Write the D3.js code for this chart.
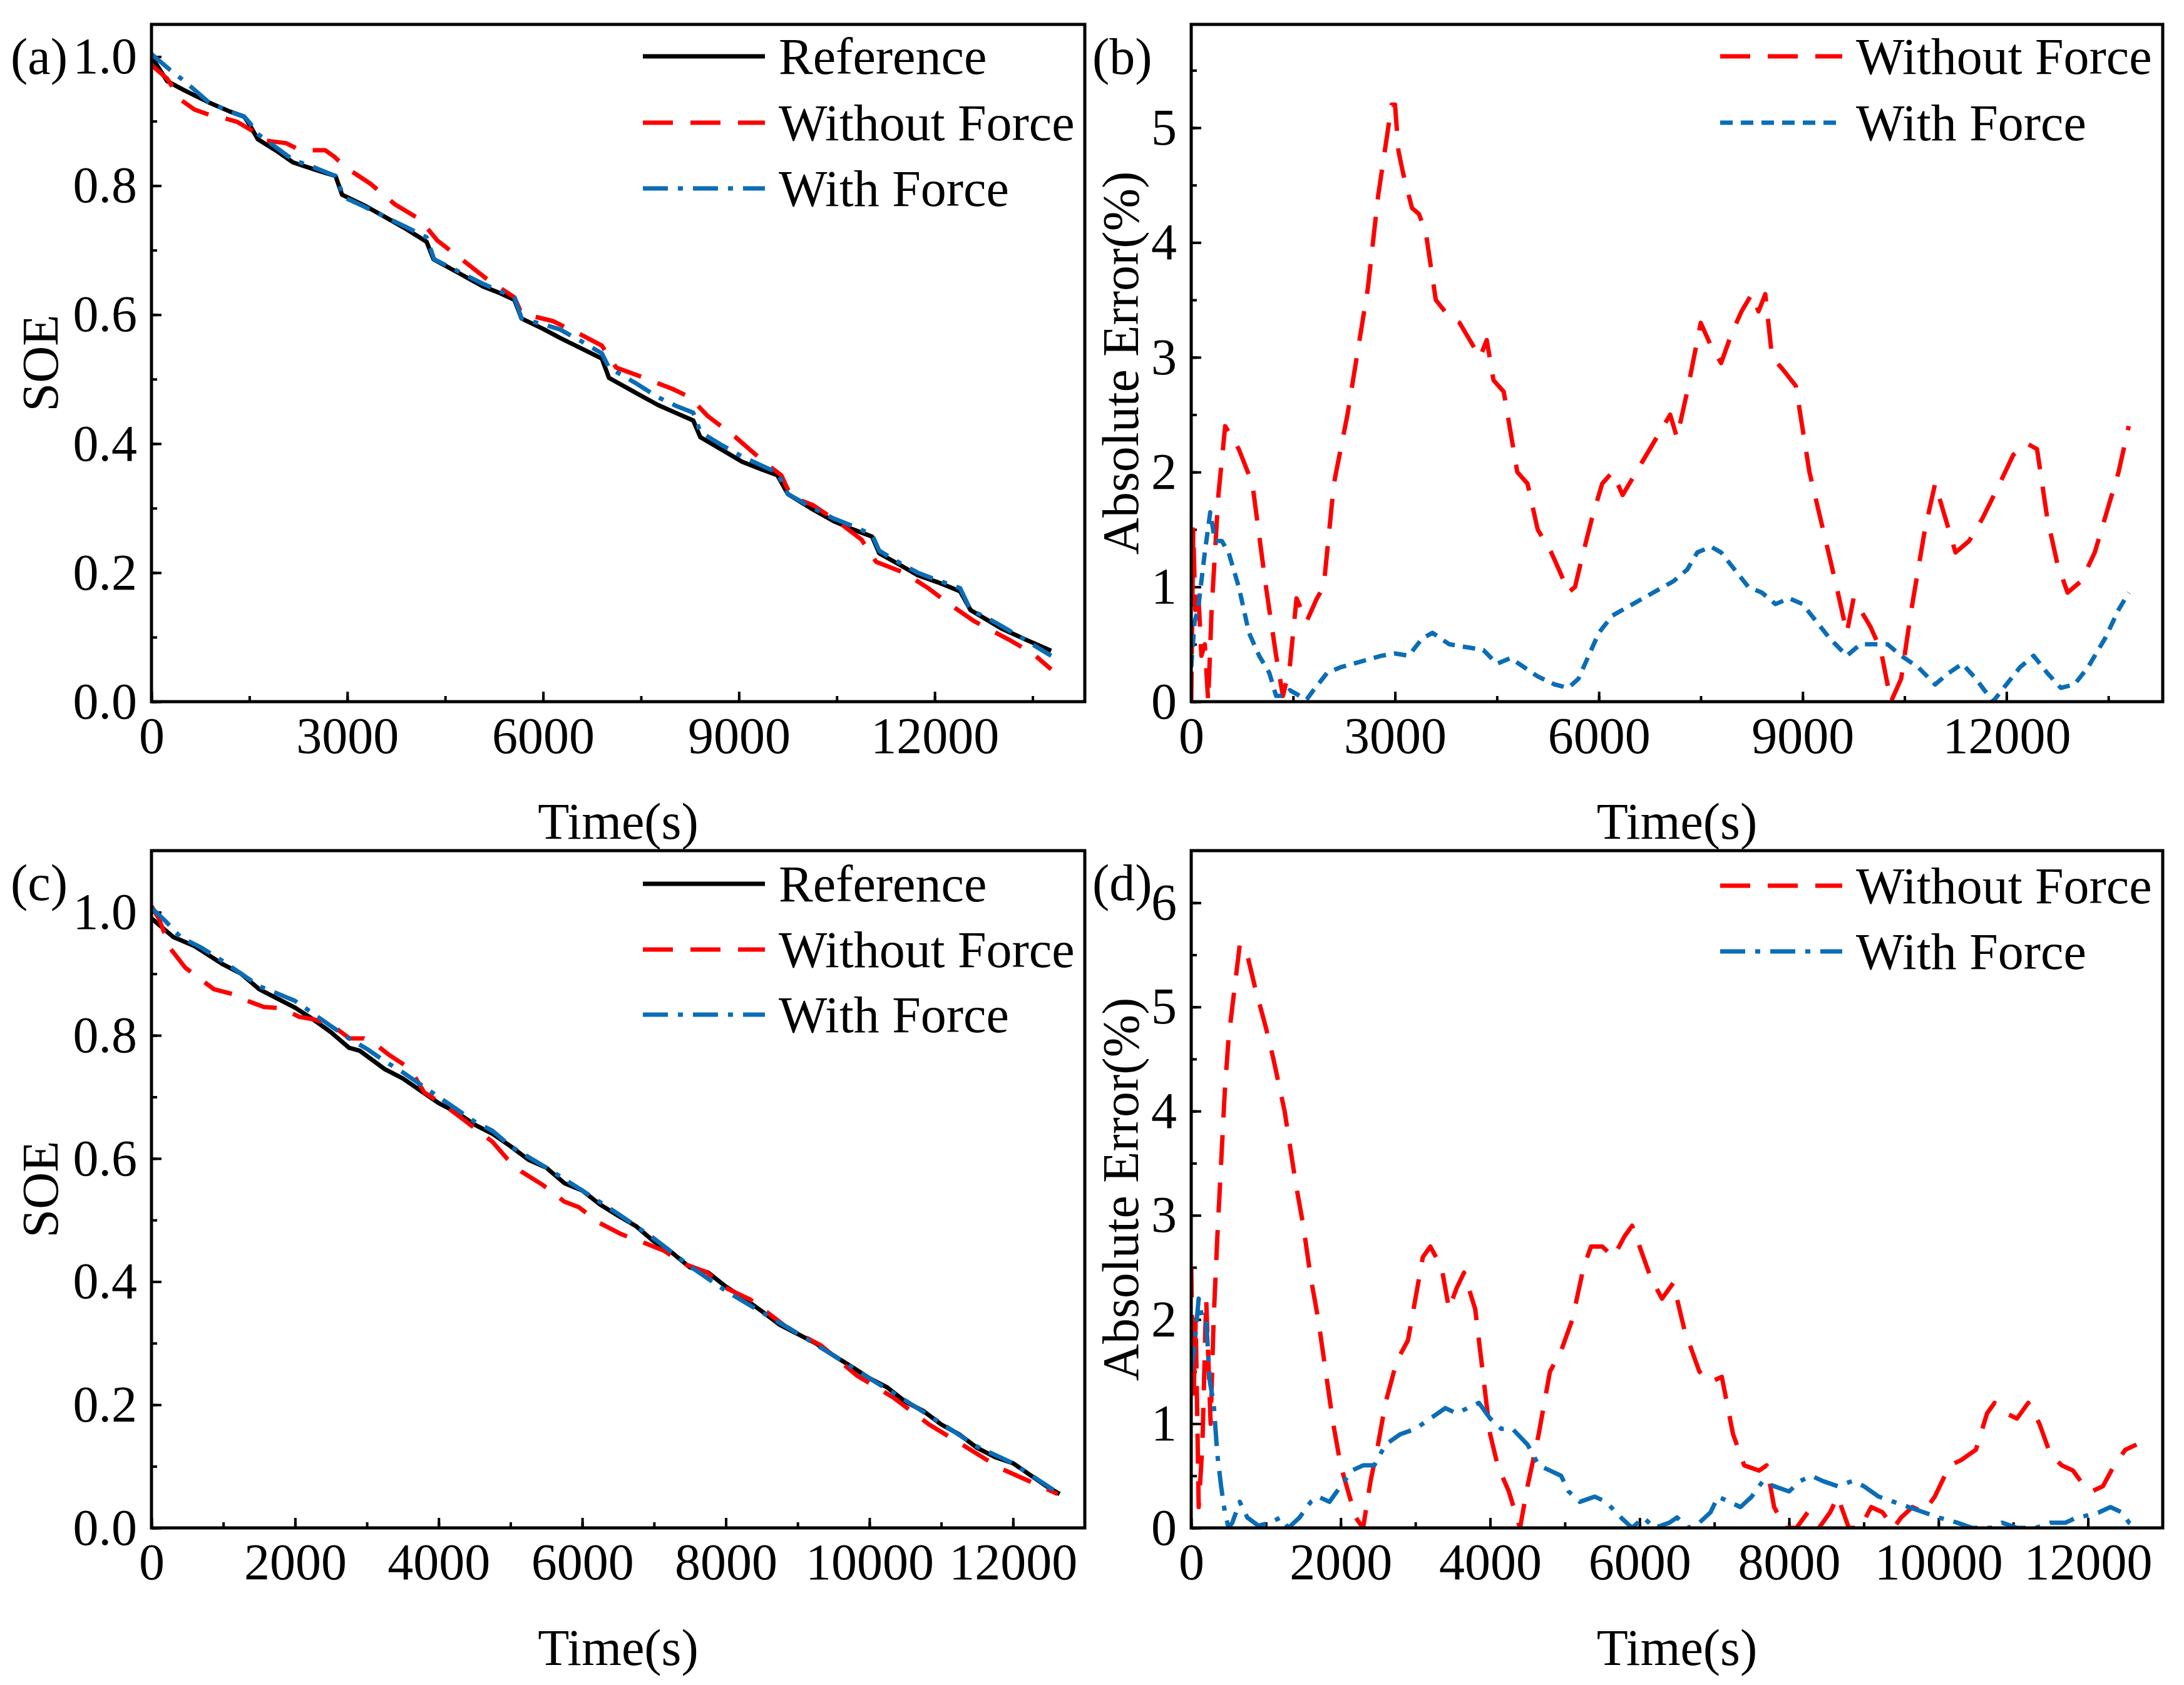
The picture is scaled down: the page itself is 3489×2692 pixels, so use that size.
<!DOCTYPE html>
<html>
<head>
<meta charset="utf-8">
<script src="https://cdn.jsdelivr.net/npm/d3@7/dist/d3.min.js"></script>
<style>
body { margin: 0; background: #fff; }
text { font-family: "Liberation Serif", "Times New Roman", serif; fill: #000; }
</style>
</head>
<body>
<svg id="chart" width="3489" height="2692"></svg>
<script>
// Values: [time (s), value]

// (a) SOE, cycle 1
var a_reference = [[0,1.0],[240,0.962],[500,0.948],[880,0.929],[1200,0.915],[1420,0.907],[1500,0.895],[1630,0.872],[1900,0.855],[2170,0.836],[2500,0.825],[2820,0.815],[2920,0.786],[3250,0.77],[3570,0.752],[3900,0.733],[4215,0.713],[4320,0.686],[4700,0.665],[5075,0.644],[5350,0.633],[5560,0.623],[5670,0.594],[6000,0.578],[6260,0.564],[6600,0.547],[6900,0.532],[7010,0.502],[7400,0.48],[7760,0.46],[8050,0.447],[8300,0.436],[8410,0.41],[8750,0.39],[9050,0.372],[9350,0.36],[9590,0.351],[9750,0.322],[10100,0.3],[10450,0.28],[10750,0.267],[11040,0.256],[11150,0.23],[11450,0.213],[11740,0.196],[12050,0.185],[12390,0.171],[12550,0.142],[12800,0.127],[13030,0.113],[13400,0.096],[13785,0.079]];
var a_without = [[0,0.987],[240,0.966],[450,0.933],[660,0.918],[880,0.91],[1100,0.905],[1310,0.899],[1530,0.886],[1740,0.87],[2060,0.866],[2280,0.855],[2660,0.855],[2800,0.845],[2980,0.828],[3355,0.803],[3730,0.771],[4110,0.748],[4380,0.715],[4750,0.686],[5180,0.652],[5560,0.627],[5670,0.602],[6150,0.59],[6580,0.569],[6900,0.552],[7120,0.518],[7550,0.502],[7980,0.485],[8250,0.472],[8520,0.443],[8950,0.41],[9380,0.372],[9650,0.351],[9800,0.318],[10130,0.305],[10560,0.276],[10880,0.251],[11100,0.217],[11530,0.2],[11900,0.176],[12230,0.151],[12600,0.125],[13140,0.096],[13500,0.075],[13785,0.05]];
var a_with = [[0,1.004],[290,0.979],[505,0.962],[880,0.929],[1200,0.915],[1420,0.907],[1500,0.898],[1630,0.88],[1900,0.86],[2170,0.84],[2500,0.828],[2820,0.815],[2950,0.782],[3250,0.768],[3570,0.752],[3900,0.736],[4215,0.72],[4330,0.686],[4700,0.667],[5075,0.648],[5350,0.636],[5560,0.627],[5670,0.594],[6000,0.585],[6260,0.577],[6600,0.558],[6900,0.54],[7010,0.518],[7400,0.495],[7760,0.472],[8050,0.458],[8300,0.448],[8410,0.418],[8750,0.397],[9050,0.38],[9350,0.366],[9590,0.355],[9750,0.322],[10100,0.302],[10450,0.284],[10750,0.272],[11040,0.259],[11150,0.234],[11450,0.216],[11740,0.2],[12050,0.188],[12390,0.176],[12550,0.142],[12800,0.13],[13030,0.117],[13400,0.095],[13785,0.071]];

// (b) absolute error (%), cycle 1
var b_without = [[0,0],[30,1.5],[60,0.8],[100,1.0],[150,0.4],[200,0.5],[250,0.0],[300,0.8],[400,1.8],[500,2.4],[700,2.2],[900,1.9],[1100,1.0],[1250,0.4],[1350,0.05],[1450,0.3],[1550,0.9],[1700,0.7],[1850,0.9],[1950,1.0],[2100,1.9],[2300,2.5],[2600,3.6],[2750,4.4],[2850,4.8],[2950,5.2],[3000,5.2],[3050,4.8],[3120,4.6],[3250,4.3],[3350,4.25],[3450,4.1],[3600,3.5],[3800,3.35],[3950,3.3],[4100,3.15],[4250,3.0],[4350,3.15],[4450,2.8],[4600,2.7],[4800,2.0],[4950,1.9],[5100,1.5],[5300,1.3],[5450,1.1],[5550,0.95],[5650,1.0],[5750,1.25],[5900,1.6],[6050,1.9],[6200,2.0],[6350,1.8],[6500,1.95],[6650,2.1],[6900,2.35],[7050,2.5],[7150,2.3],[7300,2.7],[7500,3.3],[7650,3.1],[7800,2.95],[7950,3.2],[8100,3.4],[8250,3.55],[8350,3.4],[8450,3.55],[8550,3.0],[8700,2.9],[8900,2.75],[9100,2.0],[9300,1.5],[9500,1.0],[9650,0.6],[9750,0.9],[9850,0.8],[10000,0.65],[10150,0.45],[10300,0.0],[10450,0.2],[10600,0.8],[10800,1.5],[10950,1.9],[11100,1.6],[11250,1.3],[11450,1.4],[11650,1.6],[11900,1.9],[12100,2.15],[12300,2.25],[12450,2.2],[12600,1.6],[12750,1.2],[12900,0.95],[13100,1.05],[13300,1.3],[13500,1.7],[13650,2.0],[13800,2.4]];
var b_with = [[0,0.3],[50,0.7],[100,0.8],[200,1.3],[280,1.65],[350,1.4],[450,1.4],[550,1.3],[700,1.0],[850,0.6],[1000,0.4],[1150,0.25],[1250,0.05],[1350,0.05],[1450,0.1],[1600,0.05],[1700,0.02],[1800,0.1],[2000,0.25],[2200,0.3],[2500,0.35],[2800,0.4],[3000,0.42],[3200,0.4],[3400,0.55],[3550,0.6],[3800,0.5],[4100,0.47],[4300,0.45],[4500,0.33],[4700,0.38],[4900,0.3],[5100,0.22],[5350,0.15],[5550,0.12],[5700,0.2],[5850,0.4],[6000,0.6],[6200,0.75],[6500,0.85],[6800,0.95],[7100,1.05],[7300,1.15],[7450,1.3],[7650,1.35],[7800,1.3],[8000,1.15],[8200,1.0],[8400,0.95],[8600,0.85],[8800,0.9],[9000,0.85],[9200,0.7],[9400,0.55],[9650,0.4],[9850,0.5],[10050,0.5],[10250,0.5],[10450,0.4],[10700,0.3],[10950,0.15],[11150,0.25],[11350,0.33],[11550,0.2],[11800,0.0],[12000,0.15],[12200,0.3],[12400,0.4],[12600,0.25],[12800,0.12],[13000,0.15],[13200,0.3],[13450,0.55],[13650,0.8],[13800,0.95]];

// (c) SOE, cycle 2
var c_reference = [[0,0.99],[150,0.975],[300,0.96],[600,0.945],[800,0.93],[1000,0.915],[1250,0.9],[1500,0.875],[1750,0.86],[2000,0.845],[2250,0.826],[2500,0.805],[2750,0.78],[2900,0.775],[3250,0.745],[3500,0.73],[3750,0.71],[4000,0.69],[4250,0.675],[4500,0.655],[4750,0.64],[5000,0.62],[5250,0.598],[5500,0.585],[5750,0.56],[6000,0.548],[6250,0.525],[6500,0.507],[6750,0.49],[7000,0.465],[7250,0.447],[7500,0.423],[7750,0.415],[8000,0.392],[8250,0.373],[8500,0.352],[8750,0.33],[9000,0.315],[9250,0.3],[9500,0.28],[9750,0.262],[10000,0.243],[10250,0.228],[10500,0.205],[10750,0.19],[11000,0.168],[11250,0.152],[11500,0.13],[11750,0.115],[12000,0.105],[12250,0.085],[12500,0.065],[12650,0.055]];
var c_without = [[0,1.01],[100,0.99],[270,0.94],[470,0.91],[720,0.888],[870,0.875],[1165,0.866],[1315,0.857],[1565,0.846],[1810,0.844],[2060,0.83],[2260,0.826],[2510,0.817],[2610,0.808],[2760,0.795],[2960,0.795],[3160,0.782],[3300,0.769],[3600,0.746],[3800,0.707],[4050,0.689],[4350,0.663],[4750,0.627],[4950,0.6],[5150,0.579],[5450,0.557],[5750,0.53],[5950,0.521],[6245,0.495],[6545,0.477],[6840,0.464],[7140,0.45],[7440,0.428],[7740,0.415],[7940,0.393],[8340,0.371],[8835,0.327],[9330,0.296],[9830,0.247],[10330,0.212],[10830,0.168],[11325,0.133],[11820,0.097],[12320,0.071],[12620,0.055]];
var c_with = [[0,1.007],[200,0.985],[400,0.96],[700,0.942],[1000,0.92],[1500,0.88],[2000,0.856],[2500,0.815],[2750,0.795],[3000,0.778],[3250,0.758],[3500,0.74],[3750,0.72],[4000,0.7],[4250,0.68],[4500,0.66],[4750,0.645],[5000,0.62],[5500,0.585],[6000,0.548],[6500,0.51],[7000,0.47],[7500,0.425],[8000,0.385],[8500,0.35],[9000,0.316],[9500,0.28],[10000,0.243],[10500,0.207],[11000,0.17],[11500,0.132],[12000,0.105],[12300,0.082],[12650,0.055]];

// (d) absolute error (%), cycle 2
var d_without = [[0,2.5],[30,1.2],[60,2.0],[100,0.2],[150,0.8],[200,2.2],[260,1.0],[300,2.0],[350,2.8],[400,3.5],[450,4.2],[500,4.7],[600,5.3],[650,5.6],[750,5.5],[850,5.2],[1000,4.8],[1100,4.5],[1250,4.0],[1400,3.3],[1500,2.9],[1600,2.4],[1700,2.0],[1800,1.5],[1900,1.0],[2000,0.6],[2100,0.35],[2200,0.1],[2300,0.0],[2400,0.45],[2500,0.8],[2600,1.2],[2750,1.6],[2900,1.8],[3000,2.2],[3100,2.6],[3200,2.7],[3350,2.5],[3450,2.1],[3550,2.3],[3650,2.45],[3800,2.1],[3900,1.5],[4000,0.9],[4100,0.6],[4250,0.35],[4400,0.0],[4500,0.4],[4650,0.9],[4800,1.5],[4950,1.7],[5100,2.0],[5250,2.5],[5350,2.7],[5500,2.7],[5650,2.6],[5800,2.8],[5900,2.9],[6000,2.7],[6150,2.4],[6300,2.2],[6450,2.35],[6600,1.9],[6800,1.5],[6950,1.4],[7100,1.45],[7250,0.9],[7400,0.6],[7600,0.55],[7700,0.6],[7800,0.2],[7950,0.0],[8100,0.0],[8250,0.15],[8400,0.0],[8550,0.15],[8650,0.3],[8800,0.0],[8950,0.0],[9100,0.2],[9250,0.15],[9400,0.0],[9500,0.1],[9650,0.2],[9800,0.15],[9950,0.3],[10150,0.6],[10300,0.65],[10500,0.75],[10650,1.1],[10750,1.2],[10900,1.1],[11050,1.05],[11200,1.2],[11350,1.0],[11500,0.7],[11650,0.6],[11800,0.55],[11950,0.4],[12050,0.35],[12200,0.4],[12350,0.6],[12500,0.75],[12650,0.8]];
var d_with = [[0,1.5],[50,1.8],[100,2.2],[150,2.0],[200,2.0],[250,1.4],[300,1.2],[350,0.7],[400,0.4],[450,0.15],[500,0.0],[550,0.05],[650,0.25],[750,0.1],[900,0.02],[1050,0.05],[1200,0.1],[1300,0.0],[1450,0.1],[1600,0.25],[1700,0.3],[1850,0.25],[2000,0.4],[2150,0.55],[2300,0.6],[2450,0.6],[2600,0.8],[2800,0.9],[3000,0.95],[3200,1.05],[3400,1.15],[3550,1.1],[3700,1.15],[3850,1.2],[4000,1.05],[4150,0.95],[4300,0.95],[4500,0.8],[4650,0.6],[4800,0.55],[4950,0.5],[5050,0.35],[5200,0.25],[5400,0.3],[5550,0.25],[5750,0.1],[5900,0.0],[6050,0.1],[6200,0.0],[6400,0.05],[6500,0.1],[6650,0.0],[6800,0.05],[6950,0.15],[7050,0.3],[7200,0.25],[7350,0.2],[7500,0.3],[7650,0.45],[7800,0.4],[8000,0.35],[8150,0.45],[8300,0.5],[8450,0.45],[8650,0.4],[8850,0.45],[9000,0.4],[9200,0.3],[9400,0.25],[9600,0.2],[9800,0.15],[10000,0.1],[10250,0.05],[10450,0.0],[10700,0.0],[10850,0.05],[11050,0.0],[11300,0.0],[11500,0.05],[11700,0.05],[11850,0.1],[12000,0.12],[12150,0.15],[12300,0.2],[12450,0.15],[12550,0.05],[12650,0.0]];

var legendRef = "Reference", legendWithout = "Without Force", legendWith = "With Force";

var RED = "#ff0000", BLUE = "#0b6db6", BLACK = "#000000";
var FONT = 82, SERIF = "'Liberation Serif', 'Times New Roman', serif";
var DASH = "48,28", DASHDOT = "40,16,8,16", SHORTDASH = "20,13";

var svg = d3.select("#chart");
svg.append("rect").attr("width", 3489).attr("height", 2692).attr("fill", "#fff");

function drawPanel(p) {
    var g = svg.append("g");
    var x = d3.scaleLinear().domain(p.xDomain).range([p.left, p.right]);
    var y = d3.scaleLinear().domain(p.yDomain).range([p.bottom, p.top]);

    // minor ticks first, then major ticks with labels (all pointing inward)
    g.append("g").attr("transform", "translate(0," + p.bottom + ")")
        .call(d3.axisBottom(x).tickValues(d3.range(0, p.xDomain[1], p.xMinor))
            .tickSize(-9).tickFormat(""))
        .call(tidy);
    g.append("g").attr("transform", "translate(" + p.left + ",0)")
        .call(d3.axisLeft(y).tickValues(d3.range(0, p.yDomain[1], p.yMinor))
            .tickSize(-9).tickFormat(""))
        .call(tidy);
    g.append("g").attr("transform", "translate(0," + p.bottom + ")")
        .call(d3.axisBottom(x).tickValues(d3.range(0, p.xDomain[1], p.xMajor))
            .tickSize(-16).tickPadding(24).tickFormat(d3.format("d")))
        .call(tidy);
    g.append("g").attr("transform", "translate(" + p.left + ",0)")
        .call(d3.axisLeft(y).tickValues(d3.range(0, p.yDomain[1] + 1e-9, p.yMajor))
            .tickSize(-16).tickPadding(23).tickFormat(d3.format(p.yFormat)))
        .call(tidy);

    // series, clipped to the frame
    var clipId = "clip-" + p.name;
    svg.append("clipPath").attr("id", clipId).append("rect")
        .attr("x", p.left).attr("y", p.top)
        .attr("width", p.right - p.left).attr("height", p.bottom - p.top);
    var line = d3.line().x(function (d) { return x(d[0]); })
                        .y(function (d) { return y(d[1]); });
    var lines = g.append("g").attr("clip-path", "url(#" + clipId + ")");
    p.series.forEach(function (s) {
        lines.append("path")
            .attr("d", line(s.data))
            .attr("fill", "none")
            .attr("stroke", s.color)
            .attr("stroke-width", 7)
            .attr("stroke-linejoin", "round")
            .attr("stroke-dasharray", s.dash);
    });

    // frame
    g.append("rect")
        .attr("x", p.left).attr("y", p.top)
        .attr("width", p.right - p.left).attr("height", p.bottom - p.top)
        .attr("fill", "none").attr("stroke", "#000").attr("stroke-width", 5);

    // legend
    p.series.forEach(function (s, i) {
        var ly = p.legendY[i];
        g.append("line")
            .attr("x1", p.legendX).attr("x2", p.legendX + 195)
            .attr("y1", ly).attr("y2", ly)
            .attr("stroke", s.color).attr("stroke-width", 7)
            .attr("stroke-dasharray", s.dash);
        g.append("text")
            .attr("x", p.legendX + 217).attr("y", ly + 28)
            .attr("font-family", SERIF).attr("font-size", FONT)
            .text(s.label);
    });

    // titles and panel tag
    g.append("text")
        .attr("x", (p.left + p.right) / 2).attr("y", p.bottom + 219)
        .attr("text-anchor", "middle")
        .attr("font-family", SERIF).attr("font-size", FONT)
        .text("Time(s)");
    g.append("text")
        .attr("transform", "translate(" + p.yTitleX + "," + ((p.top + p.bottom) / 2) + ") rotate(-90)")
        .attr("text-anchor", "middle")
        .attr("font-family", SERIF).attr("font-size", FONT)
        .text(p.yTitle);
    g.append("text")
        .attr("x", p.tagX).attr("y", p.top + 79)
        .attr("font-family", SERIF).attr("font-size", FONT)
        .text(p.tag);
}

function tidy(sel) {
    sel.select(".domain").remove();
    sel.attr("font-family", SERIF).attr("font-size", FONT);
    sel.selectAll(".tick line").attr("stroke", "#000").attr("stroke-width", 4);
    sel.selectAll(".tick text")
        .attr("font-family", SERIF).attr("font-size", FONT).attr("fill", "#000");
}

drawPanel({
    name: "a", tag: "(a)", tagX: 17,
    left: 242, right: 1733, top: 39, bottom: 1121,
    xDomain: [0, 14300], xMajor: 3000, xMinor: 1500,
    yDomain: [0, 1.05], yMajor: 0.2, yMinor: 0.1, yFormat: ".1f",
    yTitle: "SOE", yTitleX: 92,
    legendX: 1027, legendY: [90, 196, 301],
    series: [
        { data: a_reference, color: BLACK, dash: null, label: legendRef },
        { data: a_without, color: RED, dash: DASH, label: legendWithout },
        { data: a_with, color: BLUE, dash: DASHDOT, label: legendWith }
    ]
});

drawPanel({
    name: "b", tag: "(b)", tagX: 1745,
    left: 1903, right: 3455, top: 39, bottom: 1121,
    xDomain: [0, 14300], xMajor: 3000, xMinor: 1500,
    yDomain: [0, 5.9], yMajor: 1, yMinor: 0.5, yFormat: "d",
    yTitle: "Absolute Error(%)", yTitleX: 1818,
    legendX: 2748, legendY: [90, 196],
    series: [
        { data: b_without, color: RED, dash: DASH, label: legendWithout },
        { data: b_with, color: BLUE, dash: SHORTDASH, label: legendWith }
    ]
});

drawPanel({
    name: "c", tag: "(c)", tagX: 17,
    left: 242, right: 1733, top: 1359, bottom: 2441,
    xDomain: [0, 13000], xMajor: 2000, xMinor: 1000,
    yDomain: [0, 1.1], yMajor: 0.2, yMinor: 0.1, yFormat: ".1f",
    yTitle: "SOE", yTitleX: 92,
    legendX: 1027, legendY: [1412, 1517, 1621],
    series: [
        { data: c_reference, color: BLACK, dash: null, label: legendRef },
        { data: c_without, color: RED, dash: DASH, label: legendWithout },
        { data: c_with, color: BLUE, dash: DASHDOT, label: legendWith }
    ]
});

drawPanel({
    name: "d", tag: "(d)", tagX: 1745,
    left: 1903, right: 3455, top: 1359, bottom: 2441,
    xDomain: [0, 13000], xMajor: 2000, xMinor: 1000,
    yDomain: [0, 6.5], yMajor: 1, yMinor: 0.5, yFormat: "d",
    yTitle: "Absolute Error(%)", yTitleX: 1818,
    legendX: 2748, legendY: [1415, 1520],
    series: [
        { data: d_without, color: RED, dash: DASH, label: legendWithout },
        { data: d_with, color: BLUE, dash: DASHDOT, label: legendWith }
    ]
});
</script>
</body>
</html>
